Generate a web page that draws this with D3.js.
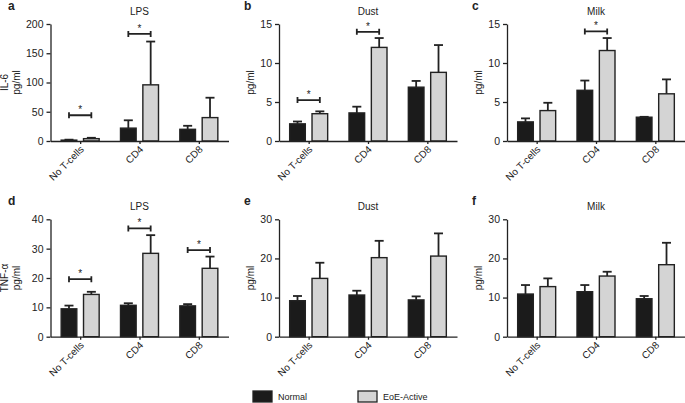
<!DOCTYPE html>
<html><head><meta charset="utf-8">
<script src="https://cdn.jsdelivr.net/npm/d3@7"></script>
<style>body{margin:0;background:#fff}svg{display:block;font-family:"Liberation Sans",Arial,sans-serif}</style>
</head><body><svg id="c" width="685" height="403"></svg>
<script>
const groups = ["No T-cells","CD4","CD8"];
const series = ["Normal","EoE-Active"];
const panelLetters = ["a","b","c","d","e","f"];
const panelTitles = ["LPS","Dust","Milk","LPS","Dust","Milk"];
const yAxisLabels = [["IL-6","pg/ml"],["pg/ml"],["pg/ml"],["TNF-\u03b1","pg/ml"],["pg/ml"],["pg/ml"]];
const yTicks = [[0,50,100,150,200],[0,5,10,15],[0,5,10,15],[0,10,20,30,40],[0,10,20,30],[0,10,20,30]];
const normalMean = [[1.5,22,20],[2.2,3.6,6.9],[2.45,6.5,3.05],[9.5,10.7,10.5],[9.2,10.65,9.4],[10.9,11.5,9.7]];
const normalErr  = [[0.8,13.4,6],[0.3,0.8,0.8],[0.45,1.25,0.05],[1.1,0.7,0.6],[1.2,1.1,0.9],[2.3,1.7,0.7]];
const eoeMean    = [[4,96,40],[3.5,12.0,8.8],[3.9,11.6,6.05],[14.4,28.4,23.3],[14.9,20.2,20.6],[12.8,15.5,18.4]];
const eoeErr     = [[1.5,74,34],[0.3,1.2,3.5],[1.0,1.6,1.85],[0.9,6.2,4.0],[4.0,4.3,5.8],[2.1,1.1,5.6]];
// significance brackets: [group index, bracket height in data units]
const sigBrackets = [[[0,44],[1,183]],[[0,5.25],[1,14.0]],[[1,14.05]],[[0,19.6],[1,36.9],[2,29.5]],[],[]];

const svg = d3.select("#c");
const ink = "#222";
const colX = [50.5, 279, 507];
const rowY = [[24,141],[219.3,336.7]];
const plotW = 178;
const fill = {"Normal":"#1b1b1b","EoE-Active":"#d4d4d4"};

for (let p = 0; p < 6; p++) {
  const col = p % 3, row = Math.floor(p / 3);
  const x0 = colX[col];
  const [yTop, yBot] = rowY[row];
  const g = svg.append("g");
  const yMax = yTicks[p][yTicks[p].length-1];
  const y = d3.scaleLinear().domain([0, yMax]).range([yBot, yTop]);
  const x = d3.scalePoint().domain(groups).range([x0, x0+plotW]).padding(0.5);
  const xs = d3.scaleBand().domain(series).range([-19,19]).paddingInner(0.3);

  // bars
  groups.forEach((grp, i) => {
    const vals = [[normalMean[p][i], normalErr[p][i]],[eoeMean[p][i], eoeErr[p][i]]];
    series.forEach((s, j) => {
      const bx = x(grp) + xs(s);
      const bw = xs.bandwidth();
      const [m, e] = vals[j];
      const cx = bx + bw/2;
      // error bar
      g.append("line").attr("x1",cx).attr("x2",cx).attr("y1",y(m)).attr("y2",y(m+e))
        .attr("stroke",ink).attr("stroke-width",1.8);
      g.append("line").attr("x1",cx-4.5).attr("x2",cx+4.5).attr("y1",y(m+e)).attr("y2",y(m+e))
        .attr("stroke",ink).attr("stroke-width",1.8);
      g.append("rect").attr("x",bx).attr("y",y(m)).attr("width",bw).attr("height",y(0)-y(m))
        .attr("fill",fill[s]).attr("stroke",ink).attr("stroke-width",1.4);
    });
  });

  // significance brackets
  sigBrackets[p].forEach(([gi, v]) => {
    const xa = x(groups[gi]) + xs(series[0]) + xs.bandwidth()/2;
    const xb = x(groups[gi]) + xs(series[1]) + xs.bandwidth()/2;
    const yy = y(v);
    g.append("path").attr("d",`M${xa},${yy-3}V${yy+3}M${xa},${yy}H${xb}M${xb},${yy-3}V${yy+3}`)
      .attr("fill","none").attr("stroke",ink).attr("stroke-width",1.8);
    g.append("text").attr("x",(xa+xb)/2).attr("y",yy-2).attr("text-anchor","middle")
      .attr("font-size",10).attr("fill",ink).text("*");
  });

  // y axis
  const ya = g.append("g").attr("transform",`translate(${x0},0)`)
    .call(d3.axisLeft(y).tickValues(yTicks[p]).tickSize(4).tickPadding(3).tickSizeOuter(0));
  ya.select(".domain").attr("stroke",ink).attr("stroke-width",1.3);
  ya.selectAll(".tick line").attr("stroke",ink).attr("stroke-width",1.3);
  ya.selectAll("text").attr("font-size",10.5).attr("fill",ink).attr("font-family","Liberation Sans, Arial, sans-serif");

  // x axis
  const xa = g.append("g").attr("transform",`translate(0,${yBot})`)
    .call(d3.axisBottom(x).tickSize(3).tickSizeOuter(0));
  xa.select(".domain").attr("stroke",ink).attr("stroke-width",1.3);
  xa.selectAll(".tick line").attr("stroke",ink).attr("stroke-width",1.3);
  xa.selectAll("text").attr("font-size",10).attr("fill",ink)
    .attr("font-family","Liberation Sans, Arial, sans-serif")
    .attr("text-anchor","end").attr("dy",null).attr("y",null)
    .attr("transform","translate(4,9) rotate(-45)");

  // title
  g.append("text").attr("x", x(groups[1])).attr("y", yTop - 9).attr("text-anchor","middle")
    .attr("font-size",10).attr("fill",ink).text(panelTitles[p]);
  // panel letter
  g.append("text").attr("x", col === 0 ? 8 : x0 - 35).attr("y", yTop - 14)
    .attr("font-size",12).attr("font-weight","bold").attr("fill",ink).text(panelLetters[p]);
  // y labels
  const labs = yAxisLabels[p];
  const ymid = (yTop + yBot)/2;
  labs.forEach((t, k) => {
    const lx = col === 0 ? (labs.length === 2 ? 8 + k*12 : 20) : x0 - 25;
    g.append("text").attr("transform",`translate(${lx},${ymid}) rotate(-90)`)
      .attr("text-anchor","middle").attr("font-size",10).attr("fill",ink).text(t);
  });
}

// legend
const leg = svg.append("g");
const legX = [253, 358];
series.forEach((s, i) => {
  leg.append("rect").attr("x",legX[i]).attr("y",391).attr("width",19).attr("height",11)
    .attr("fill",fill[s]).attr("stroke",ink).attr("stroke-width",1.3);
  leg.append("text").attr("x",legX[i]+25).attr("y",400).attr("font-size",9).attr("fill",ink).text(s);
});
</script></body></html>
